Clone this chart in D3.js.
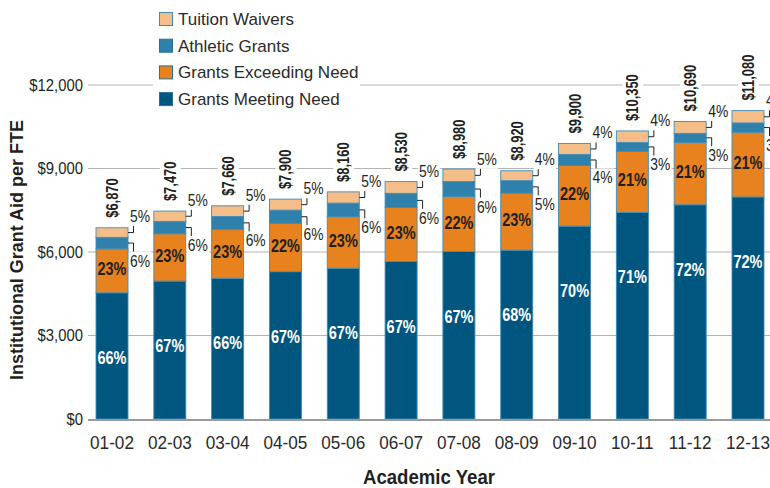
<!DOCTYPE html>
<html>
<head>
<meta charset="utf-8">
<script src="https://cdn.jsdelivr.net/npm/d3@7/dist/d3.min.js"></script>
<style>
  html, body { margin: 0; padding: 0; background: #fff; }
  svg { display: block; }
  text { font-family: 'Liberation Sans', Arial, sans-serif; fill: #231f20; }
</style>
</head>
<body>
<script>
// Institutional grant aid per FTE, by academic year
const years = ["01-02","02-03","03-04","04-05","05-06","06-07","07-08","08-09","09-10","10-11","11-12","12-13"];
const totals = [6870, 7470, 7660, 7900, 8160, 8530, 8980, 8920, 9900, 10350, 10690, 11080];
const pctMeeting   = [66, 67, 66, 67, 67, 67, 67, 68, 70, 71, 72, 72];
const pctExceeding = [23, 23, 23, 22, 23, 23, 22, 23, 22, 21, 21, 21];
const pctAthletic  = [6, 6, 6, 6, 6, 6, 6, 5, 4, 3, 3, 3];
const pctWaivers   = [5, 5, 5, 5, 5, 5, 5, 4, 4, 4, 4, 4];
const seriesNames = ["Grants Meeting Need", "Grants Exceeding Need", "Athletic Grants", "Tuition Waivers"];
const yTicks = [0, 3000, 6000, 9000, 12000];

const colors = {
  "Grants Meeting Need": "#00567f",
  "Grants Exceeding Need": "#e8821f",
  "Athletic Grants": "#2f80aa",
  "Tuition Waivers": "#f5bd88"
};

const W = 770, H = 488;
const svg = d3.select("body").append("svg").attr("width", W).attr("height", H);

// squeeze a text horizontally to get a condensed face
function narrow(sel, k) {
  sel.each(function () {
    const len = this.getComputedTextLength();
    d3.select(this).attr("textLength", len * k).attr("lengthAdjust", "spacingAndGlyphs");
  });
  return sel;
}

const x = d3.scaleBand().domain(years).range([96, 764]).paddingInner(0.4464).paddingOuter(0);
const y = d3.scaleLinear().domain([0, 12000]).range([419, 85]);

// dollar amount of each component, split from the yearly total by its share
const pctBy = {
  "Grants Meeting Need": pctMeeting,
  "Grants Exceeding Need": pctExceeding,
  "Athletic Grants": pctAthletic,
  "Tuition Waivers": pctWaivers
};
const rows = years.map((yr, i) => {
  const sum = pctMeeting[i] + pctExceeding[i] + pctAthletic[i] + pctWaivers[i];
  const r = { year: yr, total: totals[i] };
  seriesNames.forEach(k => { r[k] = totals[i] * pctBy[k][i] / sum; r["pct_" + k] = pctBy[k][i]; });
  return r;
});
const stacked = d3.stack().keys(seriesNames)(rows);

// gridlines
svg.append("g").selectAll("line").data(yTicks.filter(t => t > 0)).join("line")
  .attr("x1", 88).attr("x2", W).attr("y1", d => y(d)).attr("y2", d => y(d))
  .attr("stroke", "#b3b3b3").attr("stroke-width", 1);

// y axis labels
const yAxis = svg.append("g").attr("transform", "translate(88,0)")
  .call(d3.axisLeft(y).tickValues(yTicks).tickSize(0).tickPadding(5).tickFormat(d => "$" + d3.format(",")(d)));
yAxis.select(".domain").remove();
narrow(yAxis.selectAll("text").attr("font-size", 16.7).attr("fill", "#231f20")
  .style("font-family", "'Liberation Sans', Arial, sans-serif"), 0.89);

// helper: white box behind a text node
function backing(textSel, pad) {
  textSel.each(function () {
    const b = this.getBBox();
    d3.select(this.parentNode).insert("rect", () => this)
      .attr("x", b.x - pad).attr("y", b.y - pad + 1)
      .attr("width", b.width + 2 * pad).attr("height", b.height + 2 * pad - 2)
      .attr("fill", "#fff");
  });
}

// bars
const barG = svg.append("g");
stacked.forEach(layer => {
  barG.append("g").selectAll("rect").data(layer).join("rect")
    .attr("x", d => x(d.data.year))
    .attr("width", x.bandwidth())
    .attr("y", d => y(d[1]))
    .attr("height", d => y(d[0]) - y(d[1]))
    .attr("fill", colors[layer.key])
    .attr("stroke", "#3f8dba").attr("stroke-width", 0.9);
});

// axis baseline
svg.append("line").attr("x1", 88).attr("x2", W).attr("y1", 420).attr("y2", 420)
  .attr("stroke", "#9a9a9a").attr("stroke-width", 2);

const layerOf = k => stacked.find(l => l.key === k);

// share labels inside the meeting-need segment
narrow(svg.append("g").selectAll("text").data(layerOf("Grants Meeting Need")).join("text")
  .attr("x", d => x(d.data.year) + x.bandwidth() / 2)
  .attr("y", d => y(d[1]) + 71)
  .attr("text-anchor", "middle").attr("font-size", 17.7).attr("font-weight", "bold")
  .style("fill", "#fff")
  .text(d => d.data["pct_Grants Meeting Need"] + "%"), 0.82);

// share labels inside the exceeding-need segment
narrow(svg.append("g").selectAll("text").data(layerOf("Grants Exceeding Need")).join("text")
  .attr("x", d => x(d.data.year) + x.bandwidth() / 2)
  .attr("y", d => (y(d[0]) + y(d[1])) / 2 + 4.5)
  .attr("text-anchor", "middle").attr("font-size", 17.7).attr("font-weight", "bold")
  .text(d => d.data["pct_Grants Exceeding Need"] + "%"), 0.82);

// leader-line labels for the two small segments
const leadG = svg.append("g");
layerOf("Tuition Waivers").forEach(d => {
  const xr = x(d.data.year) + x.bandwidth();
  const ym = (y(d[0]) + y(d[1])) / 2;
  leadG.append("path").attr("d", `M${xr},${ym}H${xr + 5.5}V${ym - 10}`)
    .attr("fill", "none").attr("stroke", "#231f20").attr("stroke-width", 1);
  const g = leadG.append("g");
  const t = g.append("text").attr("x", xr + 2).attr("y", ym - 10.5).attr("font-size", 16.7)
    .text(d.data["pct_Tuition Waivers"] + "%");
  narrow(t, 0.83);
  backing(t, 1);
});
layerOf("Athletic Grants").forEach(d => {
  const xr = x(d.data.year) + x.bandwidth();
  const ym = (y(d[0]) + y(d[1])) / 2;
  leadG.append("path").attr("d", `M${xr},${ym}H${xr + 5.5}V${ym + 10}`)
    .attr("fill", "none").attr("stroke", "#231f20").attr("stroke-width", 1);
  const g = leadG.append("g");
  const t = g.append("text").attr("x", xr + 2).attr("y", ym + 23.5).attr("font-size", 16.7)
    .text(d.data["pct_Athletic Grants"] + "%");
  narrow(t, 0.83);
  backing(t, 1);
});

// yearly totals above each bar
const totG = svg.append("g");
rows.forEach(r => {
  const g = totG.append("g")
    .attr("transform", `translate(${x(r.year) + x.bandwidth() / 2 + 6},${y(r.total) - 10}) rotate(-90)`);
  const t = g.append("text").attr("x", 0).attr("y", 0).attr("font-size", 17).attr("font-weight", "bold")
    .text("$" + d3.format(",")(r.total));
  narrow(t, 0.76);
  backing(t, 2);
});

// x tick labels
narrow(svg.append("g").selectAll("text").data(years).join("text")
  .attr("x", d => x(d) + x.bandwidth() / 2).attr("y", 449)
  .attr("text-anchor", "middle").attr("font-size", 17.7).style("fill", "#2a2a2a")
  .text(d => d), 0.97);

// axis titles
svg.append("text").attr("x", 429).attr("y", 484).attr("text-anchor", "middle")
  .attr("font-size", 20.5).attr("font-weight", "bold")
  .attr("textLength", 132).attr("lengthAdjust", "spacingAndGlyphs").text("Academic Year");
svg.append("text").attr("transform", "translate(22.5,250) rotate(-90)").attr("text-anchor", "middle")
  .attr("font-size", 19).attr("font-weight", "bold")
  .attr("textLength", 260).attr("lengthAdjust", "spacingAndGlyphs").text("Institutional Grant Aid per FTE");

// legend
const leg = svg.append("g");
leg.append("rect").attr("x", 153).attr("y", 0).attr("width", 207).attr("height", 112).attr("fill", "#fff");
const legOrder = ["Tuition Waivers", "Athletic Grants", "Grants Exceeding Need", "Grants Meeting Need"];
legOrder.forEach((k, i) => {
  const cy = 19 + i * 26.7;
  leg.append("rect").attr("x", 159.5).attr("y", cy - 6.5).attr("width", 13).attr("height", 13)
    .attr("fill", colors[k]).attr("stroke", k === "Tuition Waivers" ? "#3f8dba" : "#2a6f99").attr("stroke-width", 1);
  narrow(leg.append("text").attr("x", 178).attr("y", cy + 6).attr("font-size", 17).style("fill", "#2a2a2a").text(k), 1.0);
});
</script>
</body>
</html>
